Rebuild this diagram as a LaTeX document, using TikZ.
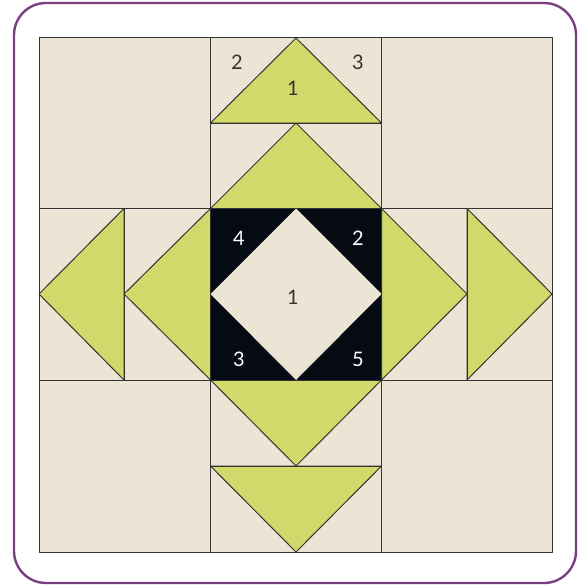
\documentclass[tikz,border=0pt]{standalone}
\usepackage{fontspec}
\setmainfont{Lato}
\usepackage{tikz}
\definecolor{quiltbg}{HTML}{ECE4D4}
\definecolor{quiltgreen}{HTML}{D2D96A}
\definecolor{quiltdark}{HTML}{060B13}
\definecolor{quiltpurple}{HTML}{7A3F80}
\definecolor{seamclr}{HTML}{333333}
\begin{document}
\begin{tikzpicture}[
  x=1pt,y=-1pt,
  patch/.style={draw=seamclr,line width=1pt,line join=round},
  plain/.style={patch,fill=quiltbg},
  goose/.style={patch,fill=quiltgreen},
  num/.style={font=\fontsize{20}{22}\selectfont,text=seamclr},
  darknum/.style={num,text=white}
]
\useasboundingbox (0,0) rectangle (584,586);
\draw[quiltpurple,line width=2.4pt,rounded corners=32pt] (14,3) rectangle (576,583);

% background of the whole block
\fill[quiltbg] (39,38) rectangle (552,552);

% top flying geese
\draw[goose] (210.5,123) -- (296,38) -- (381.5,123) -- cycle;
\draw[goose] (210.5,208.5) -- (296,123) -- (381.5,208.5) -- cycle;
% bottom flying geese
\draw[goose] (210.5,380) -- (296,466) -- (381.5,380) -- cycle;
\draw[goose] (210.5,466) -- (296,552) -- (381.5,466) -- cycle;
% left flying geese
\draw[goose] (124,208.5) -- (39,294) -- (124,380) -- cycle;
\draw[goose] (210.5,208.5) -- (124,294) -- (210.5,380) -- cycle;
% right flying geese
\draw[goose] (381.5,208.5) -- (467,294) -- (381.5,380) -- cycle;
\draw[goose] (467,208.5) -- (552,294) -- (467,380) -- cycle;

% centre square in a square
\fill[quiltdark] (210.5,208.5) rectangle (381.5,380);
\fill[quiltbg] (296,208.5) -- (381.5,294) -- (296,380) -- (210.5,294) -- cycle;

% seams
\draw[patch] (39,38) rectangle (552,552);
\draw[patch] (210.5,38) -- (210.5,552);
\draw[patch] (381.5,38) -- (381.5,552);
\draw[patch] (39,208.5) -- (552,208.5);
\draw[patch] (39,380) -- (552,380);
\draw[patch] (210.5,123) -- (381.5,123);
\draw[patch] (210.5,466) -- (381.5,466);
\draw[patch] (124,208.5) -- (124,380);
\draw[patch] (467,208.5) -- (467,380);

% piecing order
\node[num] (topA) at (237,62) {2};
\node[num] (topB) at (358,62) {3};
\node[num] (topC) at (293,88) {1};
\node[darknum] (ctrA) at (239,238) {4};
\node[darknum] (ctrB) at (358,238) {2};
\node[num] (ctrC) at (293,297) {1};
\node[darknum] (ctrD) at (239,359) {3};
\node[darknum] (ctrE) at (358,359) {5};
\end{tikzpicture}
\end{document}
